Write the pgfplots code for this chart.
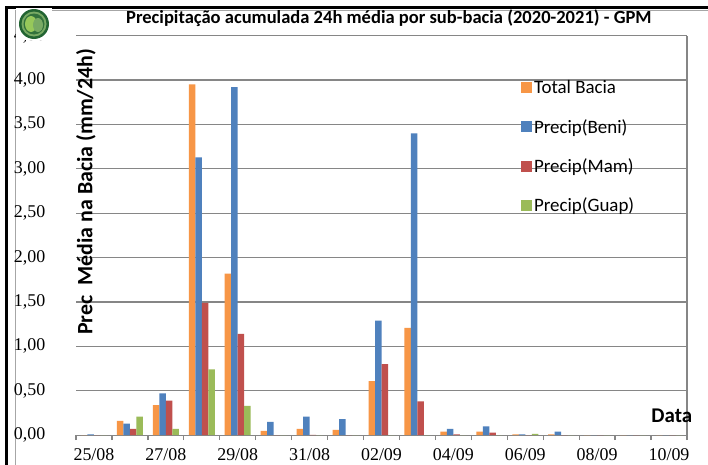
\documentclass[border=0pt]{standalone}
\usepackage{fontspec}
\setmainfont{Liberation Serif}
\newfontfamily\calibri{Carlito}
\usepackage{pgfplots}
\pgfplotsset{compat=1.18}
\definecolor{cOr}{RGB}{247,150,70}
\definecolor{cBl}{RGB}{79,129,189}
\definecolor{cRd}{RGB}{192,80,77}
\definecolor{cGr}{RGB}{155,187,89}
\definecolor{gridc}{RGB}{134,134,134}
\definecolor{lgD}{RGB}{34,100,50}
\definecolor{lgM}{RGB}{120,170,100}
\definecolor{lgL}{RGB}{150,200,90}
\begin{document}
\begin{tikzpicture}
\fill[white] (0bp,0bp) rectangle (708bp,-465bp);
\fill[black] (5bp,-6bp) rectangle (708bp,-9bp);
\fill[black] (5bp,-6bp) rectangle (8bp,-465bp);
\draw[gray!70, line width=1bp] (15.5bp,-465bp) -- (15.5bp,-10bp) -- (708bp,-10bp);
\begin{axis}[
  at={(76bp,-435.2bp)}, anchor=south west,
  scale only axis, width=611bp, height=399.6bp,
  xmin=-0.5, xmax=16.5, ymin=0, ymax=4.5,
  ybar=0pt, bar width=6.5bp,
  axis line style={draw=none},
  ytick={0,0.5,...,4.5},
  ymajorgrids, grid style={gridc, line width=1.3bp},
  ytick style={draw=none},
  yticklabel style={/pgf/number format/fixed, /pgf/number format/fixed zerofill, /pgf/number format/precision=2, /pgf/number format/use comma, /pgf/number format/assume math mode=true},
  y tick label style={font=\fontsize{18}{20}\selectfont, xshift=-23bp},
  xtick={0,2,...,16},
  xticklabels={25/08,27/08,29/08,31/08,02/09,04/09,06/09,08/09,10/09},
  x tick label style={font=\fontsize{18}{20}\selectfont, yshift=-6bp},
  major x tick style={draw=none},
  minor xtick={-0.5,0.5,...,16.5},
  minor tick length=5bp,
  tick align=outside,
  xtick pos=left,
  minor x tick style={gridc, line width=1.3bp},
  extra x ticks={16.5},
  extra x tick labels={},
  extra x tick style={grid=major, major tick length=0pt},
  title={Precipitação acumulada 24h média por sub-bacia (2020-2021) - GPM},
  title style={font=\calibri\bfseries\fontsize{18.6}{22}\selectfont, at={(axis description cs:0.512,1.0165)}, anchor=base},
  ylabel={Prec\ \ Média na Bacia (mm/24h)},
  ylabel style={font=\calibri\bfseries\fontsize{22}{26}\selectfont, at={(axis description cs:0.016,0.609)}, anchor=center},
  xlabel={Data},
  xlabel style={font=\calibri\bfseries\fontsize{21}{25}\selectfont, at={(axis description cs:0.936,0.033)}, anchor=base west},
  legend style={at={(axis description cs:0.728,0.893)}, anchor=north west, draw=none, fill=none,
    font=\calibri\fontsize{19}{22}\selectfont, row sep=20bp, inner sep=0pt},
  legend cell align=left,
  legend image code/.code={\draw[#1,draw=none] (0bp,-5.5bp) rectangle (11bp,5.5bp);},
]
\addplot[fill=cOr, draw=none] coordinates {(0,0) (1,0.16) (2,0.34) (3,3.95) (4,1.82) (5,0.05) (6,0.07) (7,0.06) (8,0.61) (9,1.21) (10,0.04) (11,0.04) (12,0.01) (13,0.01) (14,0) (15,0) (16,0)};
\addplot[fill=cBl, draw=none] coordinates {(0,0.01) (1,0.13) (2,0.47) (3,3.13) (4,3.92) (5,0.15) (6,0.21) (7,0.18) (8,1.29) (9,3.40) (10,0.07) (11,0.10) (12,0.01) (13,0.04) (14,0) (15,0) (16,0)};
\addplot[fill=cRd, draw=none] coordinates {(0,0) (1,0.07) (2,0.39) (3,1.49) (4,1.14) (5,0) (6,0.005) (7,0) (8,0.80) (9,0.38) (10,0.01) (11,0.03) (12,0) (13,0) (14,0) (15,0) (16,0)};
\addplot[fill=cGr, draw=none] coordinates {(0,0) (1,0.21) (2,0.07) (3,0.74) (4,0.33) (5,0) (6,0) (7,0) (8,0) (9,0) (10,0) (11,0) (12,0.015) (13,0) (14,0) (15,0) (16,0)};
\legend{Total Bacia, Precip(Beni), Precip(Mam), Precip(Guap)}
\end{axis}
\fill[white] (16bp,-8bp) rectangle (52bp,-40bp);
\fill[lgD] (34bp,-24bp) circle (15bp);
\fill[lgM] (34bp,-24bp) circle (12.5bp);
\fill[lgD!80!lgM] (34bp,-24bp) circle (10.5bp);
\fill[lgL] (31bp,-24bp) ellipse (6bp and 8bp);
\fill[lgM] (38bp,-25bp) ellipse (5bp and 7bp);
\pgfresetboundingbox
\path[use as bounding box] (0bp,0bp) rectangle (708bp,-465bp);
\end{tikzpicture}
\end{document}
